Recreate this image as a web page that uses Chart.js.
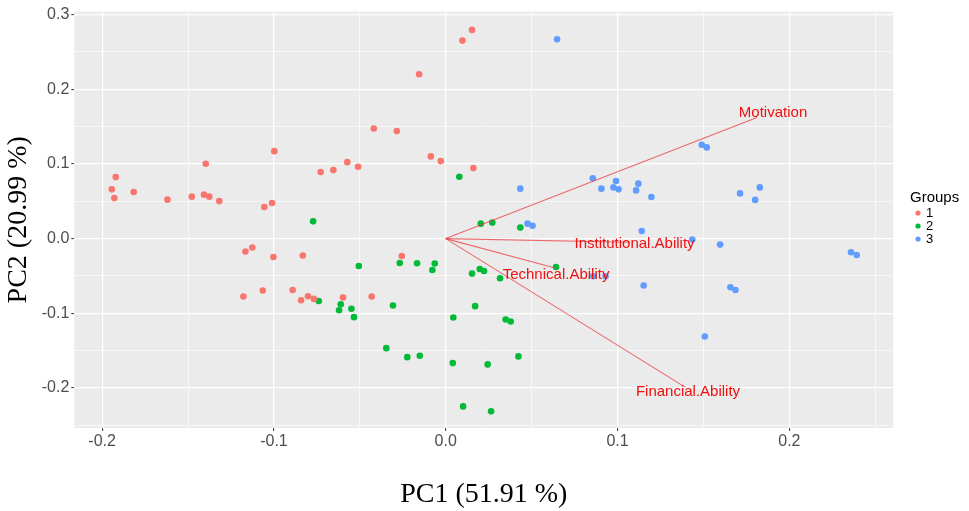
<!DOCTYPE html>
<html><head><meta charset="utf-8">
<script src="https://cdn.jsdelivr.net/npm/chart.js@4.4.1/dist/chart.umd.min.js"></script>
<style>html,body{margin:0;padding:0;background:#fff;}#wrap{width:969px;height:511px;}</style>
</head><body><div id="wrap"><canvas id="c" width="969" height="511"></canvas></div>
<script>
// ---- data ----
const groupNames = ['1', '2', '3'];
const groupColors = ['#F8766D', '#00BA38', '#619CFF'];

const group1X = [-0.1921,-0.1944,-0.1929,-0.1816,-0.1620,-0.1478,-0.1397,-0.1407,-0.1376,-0.1318,-0.1056,-0.1011,-0.0998,-0.0728,-0.0654,-0.0573,-0.0510,0.0153,0.0097,-0.0155,-0.0419,-0.0285,-0.0087,-0.0029,0.0161,-0.1166,-0.1126,-0.1003,-0.0832,-0.1178,-0.1065,-0.0891,-0.0842,-0.0802,-0.0768,-0.0598,-0.0256,-0.0431];
const group1Y = [0.0823,0.0659,0.0542,0.0623,0.0521,0.0561,0.1002,0.0588,0.0561,0.0502,0.0422,0.0476,0.1170,0.0890,0.0917,0.1023,0.0962,0.2792,0.2649,0.2199,0.1474,0.1438,0.1100,0.1037,0.0943,-0.0174,-0.0120,-0.0246,-0.0227,-0.0775,-0.0695,-0.0687,-0.0824,-0.0771,-0.0807,-0.0788,-0.0232,-0.0775];

const group2X = [0.0079,-0.0772,-0.0739,-0.0611,-0.0621,-0.0549,-0.0534,-0.0506,0.0204,0.0271,0.0434,-0.0268,-0.0167,-0.0064,-0.0078,0.0153,0.0198,0.0223,0.0316,0.0642,-0.0307,0.0171,0.0044,0.0349,0.0378,-0.0346,-0.0224,-0.0151,0.0041,0.0244,0.0423,0.0101,0.0264];
const group2Y = [0.0828,0.0231,-0.0834,-0.0878,-0.0958,-0.0938,-0.1051,-0.0366,0.0200,0.0214,0.0147,-0.0326,-0.0330,-0.0334,-0.0420,-0.0468,-0.0406,-0.0433,-0.0530,-0.0379,-0.0895,-0.0904,-0.1055,-0.1082,-0.1109,-0.1466,-0.1586,-0.1568,-0.1666,-0.1683,-0.1576,-0.2245,-0.2311];

const group3X = [0.0648,0.0434,0.0856,0.0906,0.0991,0.0976,0.1006,0.1121,0.1108,0.1197,0.1490,0.1519,0.1713,0.1828,0.1801,0.0476,0.0505,0.0859,0.0930,0.1141,0.1435,0.1597,0.1152,0.1657,0.1686,0.1508,0.2359,0.2392];
const group3Y = [0.2667,0.0668,0.0806,0.0668,0.0770,0.0685,0.0659,0.0735,0.0645,0.0556,0.1256,0.1220,0.0605,0.0685,0.0518,0.0200,0.0171,-0.0504,-0.0504,0.0102,-0.0013,-0.0080,-0.0628,-0.0651,-0.0687,-0.1309,-0.0183,-0.0219];

const varNames = ['Motivation', 'Institutional.Ability', 'Technical.Ability', 'Financial.Ability'];
const arrowX = [0.1812, 0.1073, 0.0642, 0.1393];
const arrowY = [0.1621, -0.0049, -0.0397, -0.1987];
const labelX = [0.1905, 0.1099, 0.0642, 0.1410];
const labelY = [0.1687, -0.0076, -0.0484, -0.2053];

const xMajorTicks = [-0.2, -0.1, 0.0, 0.1, 0.2];
const xMinorTicks = [-0.15, -0.05, 0.05, 0.15, 0.25];
const yMajorTicks = [-0.2, -0.1, 0.0, 0.1, 0.2, 0.3];
const yMinorTicks = [-0.25, -0.15, -0.05, 0.05, 0.15, 0.25];

const xTitle = 'PC1 (51.91 %)';
const yTitle = 'PC2 (20.99 %)';
const legendTitle = 'Groups';

// ---- build ----
const zip = (xs, ys) => xs.map((x, i) => ({x: x, y: ys[i]}));
const groupXs = [group1X, group2X, group3X];
const groupYs = [group1Y, group2Y, group3Y];
const isIn = (arr, v) => arr.some(m => Math.abs(m - v) < 1e-9);

const datasets = [];
varNames.forEach((n, i) => {
  datasets.push({
    type: 'line', label: n,
    data: [{x: 0, y: 0}, {x: arrowX[i], y: arrowY[i]}],
    borderColor: 'rgba(232,60,64,0.75)', borderWidth: 1.1,
    pointRadius: 0, fill: false, order: 0, tension: 0
  });
});
groupNames.forEach((g, i) => {
  datasets.push({
    type: 'scatter', label: g,
    data: zip(groupXs[i], groupYs[i]),
    backgroundColor: groupColors[i], borderWidth: 0,
    pointRadius: 3.3, pointHoverRadius: 3.3, order: 1
  });
});

const bgPlugin = {
  id: 'bg',
  beforeDraw(chart) {
    const {ctx, chartArea: a} = chart;
    ctx.save();
    ctx.fillStyle = '#FFFFFF';
    ctx.fillRect(0, 0, chart.width, chart.height);
    ctx.fillStyle = '#EBEBEB';
    ctx.fillRect(a.left, a.top, a.right - a.left, a.bottom - a.top);
    ctx.restore();
  }
};

const labelPlugin = {
  id: 'varLabels',
  afterDatasetsDraw(chart) {
    const {ctx, scales} = chart;
    ctx.save();
    ctx.fillStyle = '#F01010';
    ctx.font = '15px "Liberation Sans", Arial, sans-serif';
    ctx.textAlign = 'center';
    ctx.textBaseline = 'middle';
    varNames.forEach((n, i) => {
      ctx.fillText(n, scales.x.getPixelForValue(labelX[i]), scales.y.getPixelForValue(labelY[i]));
    });
    ctx.restore();
  }
};

const legendPlugin = {
  id: 'ggLegend',
  afterDraw(chart) {
    const ctx = chart.ctx;
    ctx.save();
    ctx.fillStyle = '#000';
    ctx.font = '15px "Liberation Sans", Arial, sans-serif';
    ctx.textAlign = 'left';
    ctx.textBaseline = 'middle';
    ctx.fillText(legendTitle, 910, 198);
    ctx.font = '13px "Liberation Sans", Arial, sans-serif';
    groupNames.forEach((g, i) => {
      const y = 213 + i * 13;
      ctx.fillStyle = groupColors[i];
      ctx.beginPath();
      ctx.arc(918, y, 2.6, 0, Math.PI * 2);
      ctx.fill();
      ctx.fillStyle = '#000';
      ctx.fillText(g, 926, y + 0.5);
    });
    ctx.restore();
  }
};

function axisCfg(min, max, majors, minors, title, isY) {
  return {
    type: 'linear', min: min, max: max,
    afterBuildTicks(scale) {
      scale.ticks = majors.concat(minors).sort((a, b) => a - b).map(v => ({value: v}));
    },
    afterFit(scale) {
      if (isY) scale.width = 74.3; else scale.height = 83;
    },
    border: {display: false},
    grid: {
      color: '#FFFFFF',
      lineWidth: c => (c.tick && isIn(majors, c.tick.value)) ? 1.2 : 0.6,
      tickColor: c => (c.tick && isIn(majors, c.tick.value)) ? '#333333' : 'rgba(0,0,0,0)',
      tickLength: 3, tickWidth: 1, drawTicks: true
    },
    ticks: {
      autoSkip: false, maxRotation: 0, minRotation: 0,
      padding: isY ? 2 : 1,
      color: '#4D4D4D',
      font: {family: '"Liberation Sans", Arial, sans-serif', size: 16},
      callback: v => isIn(majors, v) ? v.toFixed(1) : ''
    },
    title: {
      display: true, text: title, color: '#000',
      font: {family: '"Liberation Serif", "Times New Roman", serif', size: 28},
      padding: isY ? {top: 2, bottom: 0} : {top: 0, bottom: 0}
    }
  };
}

new Chart(document.getElementById('c'), {
  data: {datasets: datasets},
  options: {
    responsive: false, animation: false, devicePixelRatio: 1,
    layout: {padding: {left: 0, right: 75.7, top: 11, bottom: 0}},
    plugins: {legend: {display: false}, tooltip: {enabled: false}},
    scales: {
      x: axisCfg(-0.2162, 0.2605, xMajorTicks, xMinorTicks, xTitle, false),
      y: axisCfg(-0.2534, 0.3037, yMajorTicks, yMinorTicks, yTitle, true)
    }
  },
  plugins: [bgPlugin, labelPlugin, legendPlugin]
});
</script></body></html>
